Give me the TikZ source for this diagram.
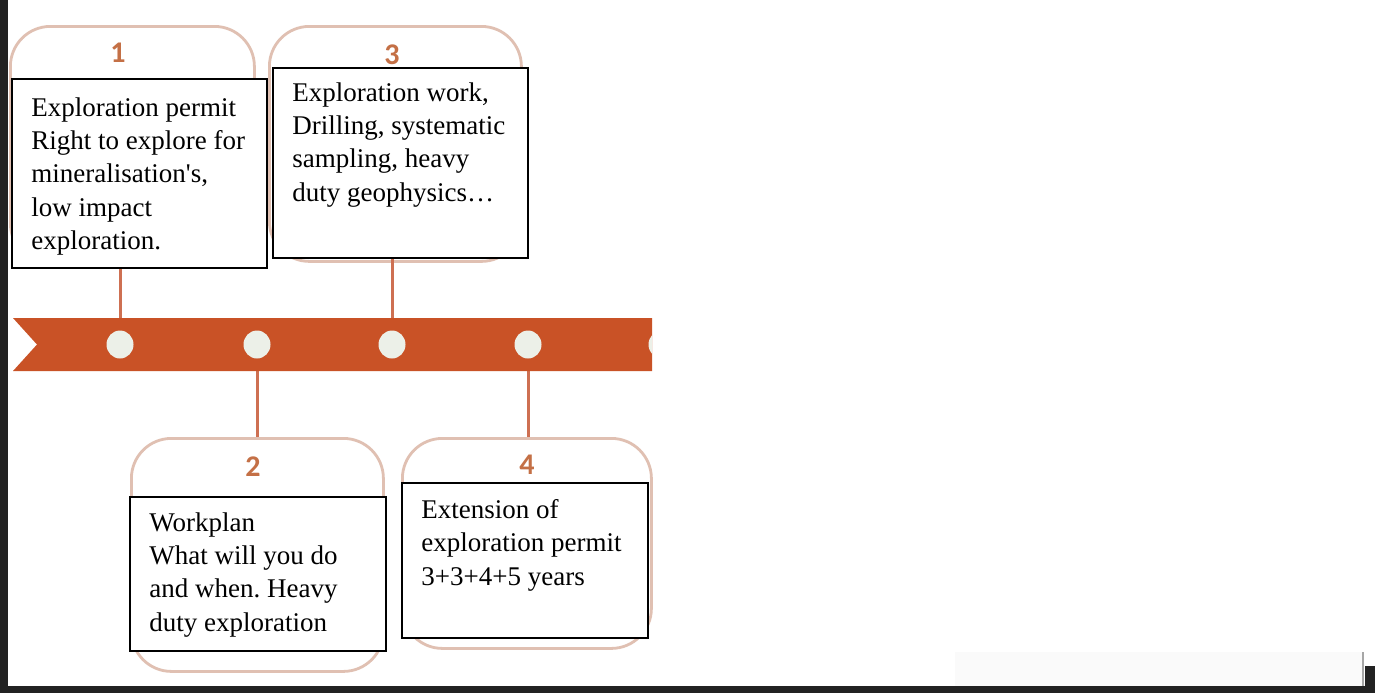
\documentclass[tikz,border=0pt]{standalone}
\usepackage{fontspec}
\setmainfont{Liberation Serif}
\newfontfamily\numfont{Carlito}
\usetikzlibrary{shapes.geometric}
\frenchspacing
\definecolor{ribbon}{RGB}{201,82,38}
\definecolor{dotfill}{RGB}{236,240,232}
\definecolor{conn}{RGB}{206,112,82}
\definecolor{rbox}{RGB}{224,192,178}
\definecolor{numcol}{RGB}{196,112,70}
\definecolor{frame}{RGB}{34,34,34}
\tikzset{
  roundbox/.style={draw=rbox, line width=1.4pt, rounded corners=20pt, fill=white, anchor=north west, inner sep=0pt},
  textbox/.style={draw=black, line width=1pt, fill=white, anchor=north west, inner sep=0pt},
  boxtext/.style={anchor=north west, inner sep=0pt, align=left, font=\fontsize{13.5}{16.65}\selectfont},
  numlabel/.style={font=\numfont\bfseries\fontsize{15}{17}\selectfont, text=numcol, inner sep=0pt},
  connector/.style={draw=conn, line width=1.5pt},
  dotmark/.style={ellipse, fill=dotfill, minimum width=13.5pt, minimum height=14pt, inner sep=0pt}
}
\begin{document}
\begin{tikzpicture}[x=0.5pt,y=-0.5pt]
\useasboundingbox (0,0) rectangle (1375,693);
\fill[white] (0,0) rectangle (1375,693);
% faint area bottom right
\fill[black!2] (955,652) rectangle (1363,686);
\draw[black!35, line width=0.6pt] (1363,652) -- (1363,686);
% frame pieces
\fill[frame] (0,0) rectangle (8,693);
\fill[frame] (0,686) rectangle (1375,693);
\fill[frame] (1365,666) rectangle (1375,693);
% rounded background boxes
\node[roundbox, minimum width=122pt, minimum height=118.5pt] (r1) at (9,25) {};
\node[roundbox, minimum width=126pt, minimum height=117.5pt] (r3) at (268,25) {};
\node[roundbox, minimum width=126pt, minimum height=116.5pt] (r2) at (130,437) {};
\node[roundbox, minimum width=124.5pt, minimum height=105pt] (r4) at (401,437) {};
% numbers
\node[numlabel] (n1) at (118,53) {1};
\node[numlabel] (n3) at (392,55) {3};
\node[numlabel] (n2) at (253,467) {2};
\node[numlabel] (n4) at (527,465) {4};
% text boxes
\node[textbox, minimum width=127.5pt, minimum height=94.5pt] (bA) at (11,78) {};
\node[textbox, minimum width=127.5pt, minimum height=95pt] (bB) at (272,67) {};
\node[textbox, minimum width=128pt, minimum height=77pt] (bC) at (129,496) {};
\node[textbox, minimum width=123pt, minimum height=77.5pt] (bD) at (401,482) {};
\node[boxtext] (tA) at (31,97) {Exploration permit\\Right to explore for\\mineralisation\textquotesingle s,\\low impact\\exploration.};
\node[boxtext] (tB) at (292,82) {Exploration work,\\Drilling, systematic\\sampling, heavy\\duty geophysics…};
\node[boxtext] (tC) at (149,512) {Workplan\\What will you do\\and when. Heavy\\duty exploration};
\node[boxtext] (tD) at (421,499) {Extension of\\exploration permit\\3+3+4+5 years};
% timeline anchor points
\coordinate (c1) at (120,344.5);
\coordinate (c2) at (257,344.5);
\coordinate (c3) at (392,344.5);
\coordinate (c4) at (528,344.5);
% connectors
\draw[connector] (bA.south -| c1) -- (c1);
\draw[connector] (bB.south -| c3) -- (c3);
\draw[connector] (c2) -- (c2 |- r2.north);
\draw[connector] (c4) -- (c4 |- r4.north);
% ribbon
\fill[ribbon] (13,318) -- (652,318) -- (652,371) -- (13,371) -- (37,344.5) -- cycle;
\begin{scope}
\clip (600,318) rectangle (652,371);
\fill[dotfill] (662,344.5) ellipse [x radius=13.5, y radius=14];
\end{scope}
% dots
\node[dotmark] (d1) at (c1) {};
\node[dotmark] (d2) at (c2) {};
\node[dotmark] (d3) at (c3) {};
\node[dotmark] (d4) at (c4) {};
\end{tikzpicture}
\end{document}
